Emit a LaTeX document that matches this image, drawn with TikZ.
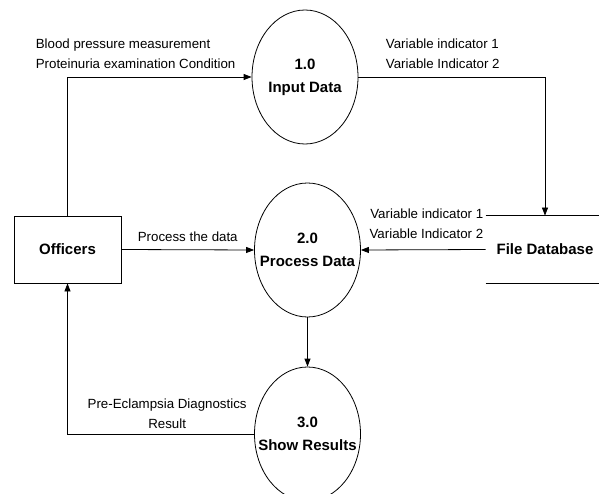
\documentclass[tikz,border=0pt]{standalone}
\usepackage{fontspec}
\setmainfont{Liberation Sans}
\usetikzlibrary{shapes.geometric,arrows.meta}

\begin{document}
\begin{tikzpicture}[->,>={Triangle[length=8pt,width=6pt]},x=1pt,y=-1pt,line width=0.8pt,
  proc node/.style={ellipse,draw,minimum width=106pt,minimum height=134pt,
    inner xsep=-14pt,inner ysep=0pt,
    align=center,font=\fontsize{15}{23}\selectfont\bfseries},
  ext node/.style={rectangle,draw,minimum width=107pt,minimum height=67pt,
    font=\fontsize{15}{18}\selectfont\bfseries},
  store node/.style={minimum width=118pt,minimum height=67pt,
    font=\fontsize{15}{18}\selectfont\bfseries},
  flow label/.style={font=\fontsize{13.3}{20}\selectfont,inner sep=2pt,text depth=3pt}]

  \useasboundingbox (0,0) rectangle (599,494);

  \node[proc node] (p1) at (305,77) {1.0\\Input Data};
  \node[proc node] (p2) at (307.5,250) {2.0\\Process Data};
  \node[proc node] (p3) at (307.5,434) {3.0\\Show Results};
  \node[ext node] (off) at (67.5,249.5) {Officers};
  \node[store node] (db) at (545,249.5) {File Database};

  % data store lines
  \draw[-] (db.north west) -- (db.north east);
  \draw[-] (db.south west) -- (db.south east);

  \draw (off.north) |- node[flow label,above=3pt,pos=0.685,align=left]
    {Blood pressure measurement\\Proteinuria examination Condition} (p1.west);
  \draw (p1.east) -| node[flow label,above=3pt,pos=0.226,align=left]
    {Variable indicator 1\\Variable Indicator 2} (db);
  \draw (off.east) -- node[flow label,above=3pt] {Process the data} (p2.west);
  \draw (db.west) -- node[flow label,anchor=south east,yshift=6pt,pos=0,align=right]
    {Variable indicator 1\\Variable Indicator 2} (p2.east);
  \draw (p2.south) -- (p3.north);
  \draw (p3.west) -| node[flow label,above=0pt,pos=0.233,align=center]
    {Pre-Eclampsia Diagnostics\\Result} (off.south);
\end{tikzpicture}
\end{document}
